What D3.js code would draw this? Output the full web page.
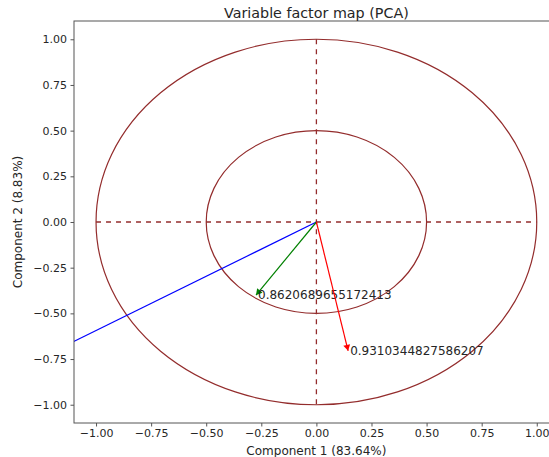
<!DOCTYPE html>
<html>
<head>
<meta charset="utf-8">
<script src="https://cdn.jsdelivr.net/npm/d3@7"></script>
<style>
  body { margin: 0; background: #fff; }
  text { font-family: "DejaVu Sans", sans-serif; fill: #262626; }
</style>
</head>
<body>
<svg width="549" height="457"></svg>
<script>
// loadings (component 1, component 2)
var varNames = ["var1", "var2", "var3"];
var comp1 = [-1.55, -0.274, 0.144];
var comp2 = [-0.921, -0.40, -0.705];
var varLabels = ["", "0.8620689655172413", "0.9310344827586207"];
var arrowColors = ["blue", "green", "red"];

var circleRadii = [1, 0.5];
var tickValues = [-1, -0.75, -0.5, -0.25, 0, 0.25, 0.5, 0.75, 1];

var svg = d3.select("svg");

// plot box; right edge sits past the window, as in the cropped picture
var margin = { top: 21, left: 74 };
var plotW = 484.8;
var plotH = 402;
var brown = "#932c2c";

var x = d3.scaleLinear().domain([-1.1, 1.1]).range([margin.left, margin.left + plotW]);
var y = d3.scaleLinear().domain([-1.1, 1.1]).range([margin.top + plotH, margin.top]);

svg.append("defs").append("clipPath")
  .attr("id", "plotclip")
  .append("rect")
  .attr("x", margin.left)
  .attr("y", margin.top)
  .attr("width", plotW)
  .attr("height", plotH);

var plot = svg.append("g").attr("clip-path", "url(#plotclip)");

// correlation circles
plot.selectAll("ellipse")
  .data(circleRadii)
  .enter()
  .append("ellipse")
  .attr("cx", x(0))
  .attr("cy", y(0))
  .attr("rx", function(d) { return x(d) - x(0); })
  .attr("ry", function(d) { return y(0) - y(d); })
  .attr("fill", "none")
  .attr("stroke", brown)
  .attr("stroke-width", 1.2);

// dashed cross through the origin
plot.append("line")
  .attr("x1", x(-1)).attr("x2", x(1))
  .attr("y1", y(0)).attr("y2", y(0))
  .attr("stroke", brown)
  .attr("stroke-width", 1.3)
  .attr("stroke-dasharray", "5,5");
plot.append("line")
  .attr("x1", x(0)).attr("x2", x(0))
  .attr("y1", y(1)).attr("y2", y(-1))
  .attr("stroke", brown)
  .attr("stroke-width", 1.3)
  .attr("stroke-dasharray", "5,5");

// variable arrows
var vars = varNames.map(function(n, i) {
  return { name: n, cx: comp1[i], cy: comp2[i], label: varLabels[i], color: arrowColors[i] };
});

var headLen = 6, headHalf = 3.5;

var arrow = plot.selectAll("g.arrow")
  .data(vars)
  .enter()
  .append("g")
  .attr("class", "arrow");

arrow.append("line")
  .attr("x1", x(0))
  .attr("y1", y(0))
  .attr("x2", function(d) { return x(d.cx); })
  .attr("y2", function(d) { return y(d.cy); })
  .attr("stroke", function(d) { return d.color; })
  .attr("stroke-width", 1.2);

arrow.append("path")
  .attr("fill", function(d) { return d.color; })
  .attr("d", function(d) {
    var tx = x(d.cx), ty = y(d.cy);
    var dx = tx - x(0), dy = ty - y(0);
    var len = Math.sqrt(dx * dx + dy * dy);
    var ux = dx / len, uy = dy / len;
    var bx = tx - ux * headLen, by = ty - uy * headLen;
    return "M" + tx + "," + ty +
      "L" + (bx - uy * headHalf) + "," + (by + ux * headHalf) +
      "L" + (bx + uy * headHalf) + "," + (by - ux * headHalf) + "Z";
  });

arrow.append("text")
  .attr("x", function(d) { return x(d.cx) + 2; })
  .attr("y", function(d) { return y(d.cy); })
  .attr("dy", ".35em")
  .style("font-size", "12px")
  .text(function(d) { return d.label; });

// frame
svg.append("rect")
  .attr("x", margin.left)
  .attr("y", margin.top)
  .attr("width", plotW)
  .attr("height", plotH)
  .attr("fill", "none")
  .attr("stroke", "#555")
  .attr("stroke-width", 1);

var fmt = function(d) { return d3.format(".2f")(d).replace("-", "\u2212"); };

var xAxis = svg.append("g")
  .attr("transform", "translate(0," + (margin.top + plotH) + ")")
  .call(d3.axisBottom(x).tickValues(tickValues).tickFormat(fmt).tickSize(3.5).tickPadding(3));
var yAxis = svg.append("g")
  .attr("transform", "translate(" + margin.left + ",0)")
  .call(d3.axisLeft(y).tickValues(tickValues).tickFormat(fmt).tickSize(3.5).tickPadding(3.5));

[xAxis, yAxis].forEach(function(a) {
  a.select(".domain").remove();
  a.selectAll(".tick line").attr("stroke", "#555");
  a.selectAll(".tick text")
    .style("font-family", "DejaVu Sans, sans-serif")
    .style("font-size", "11px")
    .attr("fill", "#333");
});

// titles
svg.append("text")
  .attr("x", margin.left + plotW / 2)
  .attr("y", 18)
  .attr("text-anchor", "middle")
  .style("font-size", "14.3px")
  .text("Variable factor map (PCA)");

svg.append("text")
  .attr("x", margin.left + plotW / 2)
  .attr("y", 455)
  .attr("text-anchor", "middle")
  .style("font-size", "12px")
  .text("Component 1 (83.64%)");

svg.append("text")
  .attr("transform", "translate(22," + (margin.top + plotH / 2) + ") rotate(-90)")
  .attr("text-anchor", "middle")
  .style("font-size", "12px")
  .text("Component 2 (8.83%)");
</script>
</body>
</html>
